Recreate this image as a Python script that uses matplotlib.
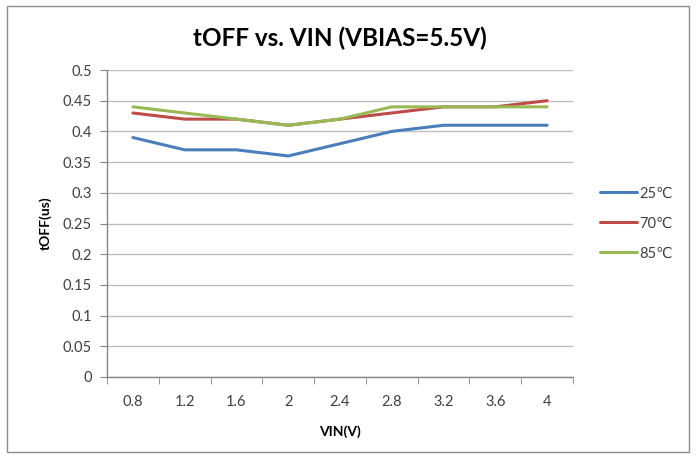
import matplotlib
matplotlib.use("Agg")
import matplotlib.pyplot as plt
from matplotlib.patches import Rectangle

vin_labels = ["0.8", "1.2", "1.6", "2", "2.4", "2.8", "3.2", "3.6", "4"]
t25 = [0.39, 0.37, 0.37, 0.36, 0.38, 0.40, 0.41, 0.41, 0.41]
t70 = [0.43, 0.42, 0.42, 0.41, 0.42, 0.43, 0.44, 0.44, 0.45]
t85 = [0.44, 0.43, 0.42, 0.41, 0.42, 0.44, 0.44, 0.44, 0.44]
series_names = ["25℃", "70℃", "85℃"]
colors = ["#4A7EBB", "#BE4B48", "#98B954"]
yticks = [0, 0.05, 0.1, 0.15, 0.2, 0.25, 0.3, 0.35, 0.4, 0.45, 0.5]

plt.rcParams['font.family'] = ['Lato', 'DejaVu Sans']

fig = plt.figure(figsize=(6.96, 4.58), dpi=100)
fig.patches.append(Rectangle((7/696, 1-452/458), 682/696, 446/458, transform=fig.transFigure,
                             fill=False, edgecolor="#8c8c8c", linewidth=1.0))
ax = fig.add_axes([107/696, 1-377/458, 466/696, 307/458])

x = list(range(len(vin_labels)))
for vals, name, c in zip([t25, t70, t85], series_names, colors):
    ax.plot(x, vals, color=c, linewidth=2.2, label=name, solid_capstyle='round')

ax.set_xlim(-0.5, len(vin_labels) - 0.5)
ax.set_ylim(0, 0.5)
ax.set_yticks(yticks)
ax.set_yticklabels([f"{v:g}" for v in yticks])
ax.set_xticks(x)
ax.set_xticklabels(vin_labels)
ax.set_xticks([i - 0.5 for i in range(len(vin_labels) + 1)], minor=True)
ax.tick_params(axis='x', which='major', length=0, pad=13, labelsize=10.5, colors="#404040")
ax.tick_params(axis='x', which='minor', length=5, color="#868686", direction='out')
ax.tick_params(axis='y', length=5, color="#868686", labelsize=10.5, colors="#404040", pad=6)
ax.grid(axis='y', color="#BFBFBF", linewidth=1.0)
ax.set_axisbelow(True)
for s in ['top', 'right']:
    ax.spines[s].set_visible(False)
for s in ['left', 'bottom']:
    ax.spines[s].set_color("#868686")
    ax.spines[s].set_linewidth(1.0)

ax.set_title("tOFF vs. VIN (VBIAS=5.5V)", fontsize=17.5, fontweight='bold', pad=17, color="#000000")
ax.set_xlabel("VIN(V)", fontsize=10, fontweight='bold', labelpad=12)
ax.set_ylabel("tOFF(us)", fontsize=10, fontweight='bold', labelpad=8)

leg = ax.legend(loc='center left', bbox_to_anchor=(1.03, 0.5), frameon=False, fontsize=10.5,
                handlelength=2.5, handletextpad=0.2, labelspacing=1.1)
for t in leg.get_texts():
    t.set_color("#404040")

fig.savefig("out.png", dpi=100)
